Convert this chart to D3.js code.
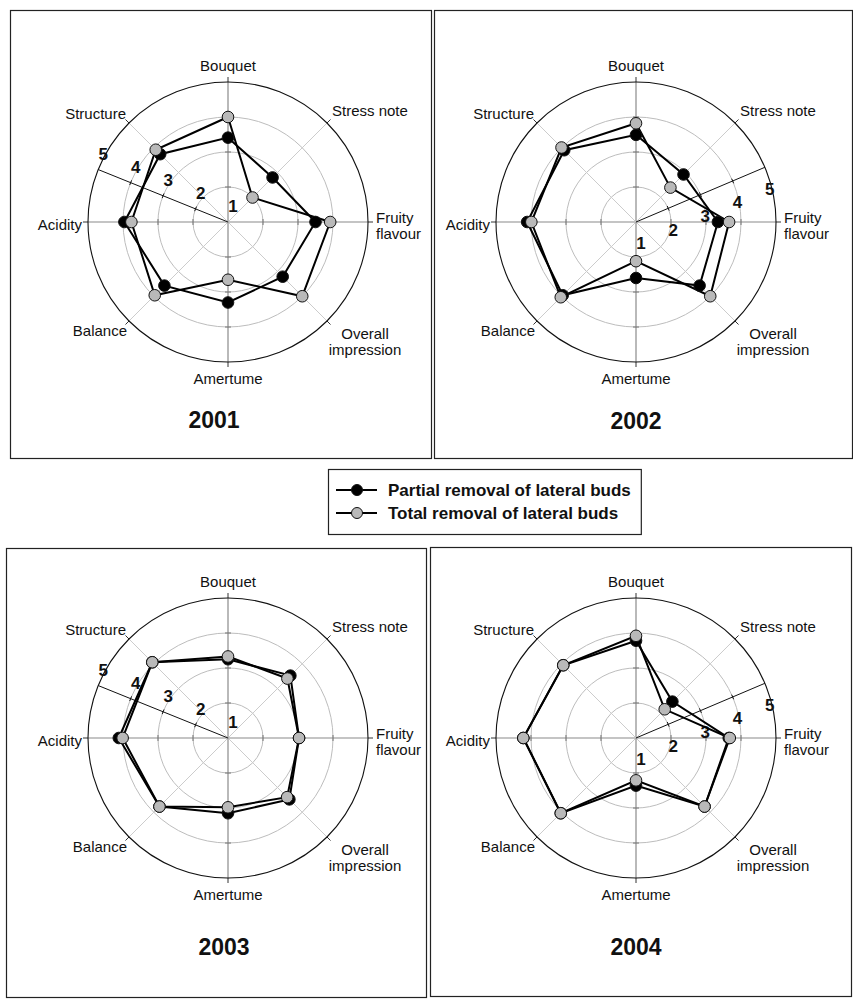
<!DOCTYPE html>
<html>
<head>
<meta charset="utf-8">
<script src="https://cdn.jsdelivr.net/npm/d3@7"></script>
<style>
  html, body { margin: 0; padding: 0; background: #fff; }
  svg { display: block; }
  text { font-family: "Liberation Sans", Arial, Helvetica, sans-serif; }
</style>
</head>
<body>
<svg id="chart" width="853" height="1004"></svg>
<script>
// ---------- data ----------
const categories = ["Bouquet", "Stress note", "Fruity flavour", "Overall impression",
                    "Amertume", "Balance", "Acidity", "Structure"];
const years = ["2001", "2002", "2003", "2004"];
const seriesNames = ["Partial removal of lateral buds", "Total removal of lateral buds"];
const scaleTicks = [1, 2, 3, 4, 5];

const partial2001 = [3.41, 2.80, 3.50, 3.21, 3.30, 3.57, 3.96, 3.74];
const total2001   = [4.00, 1.99, 3.92, 4.00, 2.65, 3.96, 3.76, 3.92];
const partial2002 = [3.49, 2.92, 3.34, 3.57, 2.60, 3.96, 4.11, 3.90];
const total2002   = [3.82, 2.39, 3.66, 4.00, 2.12, 4.04, 3.99, 4.01];
const partial2003 = [3.25, 3.52, 3.03, 3.48, 3.15, 3.77, 4.12, 4.06];
const total2003   = [3.33, 3.40, 3.03, 3.39, 2.98, 3.77, 4.01, 4.06];
const partial2004 = [3.78, 2.47, 3.65, 3.77, 2.36, 4.04, 4.22, 3.94];
const total2004   = [3.92, 2.16, 3.68, 3.77, 2.21, 4.04, 4.22, 3.94];

const partialByYear = [partial2001, partial2002, partial2003, partial2004];
const totalByYear   = [total2001, total2002, total2003, total2004];

// ---------- layout ----------
const panels = [
  { box: [10, 10, 421, 448],  cx: 228, cy: 222, side: "left",  title: [214, 420] },
  { box: [434, 10, 418, 448], cx: 636, cy: 222, side: "right", title: [636, 421] },
  { box: [6, 548, 420, 449],  cx: 228, cy: 738, side: "left",  title: [224, 947] },
  { box: [430, 547, 421, 449], cx: 636, cy: 738, side: "right", title: [636, 947] }
];
const R = 140;
const rScale = d3.scaleLinear().domain([1, 5]).range([0, R]);
const aScale = d3.scaleBand().domain(categories).range([0, 2 * Math.PI]).paddingInner(0).paddingOuter(0);
const ang = c => aScale(c);

// label placement per category: anchor, dx, dy lines
const labelPos = {
  "Bouquet":            { anchor: "middle", dx: 0,    lines: [[ "Bouquet", -157 ]] },
  "Stress note":        { anchor: "start",  dx: 104,  lines: [[ "Stress note", -112 ]] },
  "Fruity flavour":     { anchor: "start",  dx: 148,  lines: [[ "Fruity", -5 ], [ "flavour", 11 ]] },
  "Overall impression": { anchor: "middle", dx: 137,  lines: [[ "Overall", 111 ], [ "impression", 127 ]] },
  "Amertume":           { anchor: "middle", dx: 0,    lines: [[ "Amertume", 156 ]] },
  "Balance":            { anchor: "end",    dx: -101, lines: [[ "Balance", 108 ]] },
  "Acidity":            { anchor: "end",    dx: -146, lines: [[ "Acidity", 2 ]] },
  "Structure":          { anchor: "end",    dx: -102, lines: [[ "Structure", -109 ]] }
};

const svg = d3.select("#chart");

panels.forEach((p, pi) => {
  // frame
  svg.append("rect")
    .attr("x", p.box[0] + 0.5).attr("y", p.box[1] + 0.5)
    .attr("width", p.box[2]).attr("height", p.box[3])
    .attr("fill", "none").attr("stroke", "#222").attr("stroke-width", 1.2);

  const g = svg.append("g").attr("transform", `translate(${p.cx},${p.cy})`);

  // grid circles
  g.selectAll("circle.grid").data([2, 3, 4]).enter().append("circle")
    .attr("r", d => rScale(d)).attr("fill", "none")
    .attr("stroke", "#bdbdbd").attr("stroke-width", 1);

  // spokes
  categories.forEach((c, i) => {
    const a = ang(c);
    const sx = Math.sin(a), sy = -Math.cos(a);
    const cardinal = i % 2 === 0;
    g.append("line")
      .attr("x1", 0).attr("y1", 0)
      .attr("x2", sx * R).attr("y2", sy * R)
      .attr("stroke", cardinal ? "#8a8a8a" : "#cccccc").attr("stroke-width", cardinal ? 1.2 : 1);
    g.append("line")
      .attr("x1", sx * R).attr("y1", sy * R)
      .attr("x2", sx * (R + 5)).attr("y2", sy * (R + 5))
      .attr("stroke", "#333").attr("stroke-width", 1);
    if (cardinal) {
      [2, 3, 4].forEach(v => {
        const rr = rScale(v);
        const px = -sy, py = sx;
        g.append("line")
          .attr("x1", sx * rr - px * 3).attr("y1", sy * rr - py * 3)
          .attr("x2", sx * rr + px * 3).attr("y2", sy * rr + py * 3)
          .attr("stroke", "#777").attr("stroke-width", 1);
      });
    }
  });

  // outer circle
  g.append("circle").attr("r", R).attr("fill", "none")
    .attr("stroke", "#111").attr("stroke-width", 1.1);

  // tilted value axis
  const th = (p.side === "left" ? -68 : 67) * Math.PI / 180;
  const ux = Math.sin(th), uy = -Math.cos(th);
  const nx = -uy, ny = ux;
  g.append("line").attr("x1", 0).attr("y1", 0)
    .attr("x2", ux * R).attr("y2", uy * R)
    .attr("stroke", "#111").attr("stroke-width", 1);
  scaleTicks.slice(1, 4).forEach(v => {
    const rr = rScale(v);
    g.append("line")
      .attr("x1", ux * rr - nx * 2.5).attr("y1", uy * rr - ny * 2.5)
      .attr("x2", ux * rr + nx * 2.5).attr("y2", uy * rr + ny * 2.5)
      .attr("stroke", "#111").attr("stroke-width", 1);
  });
  const along = p.side === "left" ? 1 : -4;
  const perp = p.side === "left" ? 16 : 22;
  g.selectAll("text.tick").data(scaleTicks).enter().append("text")
    .attr("x", d => ux * (rScale(d) + along) + nx * perp)
    .attr("y", d => uy * (rScale(d) + along) + ny * perp)
    .attr("text-anchor", "middle").attr("dominant-baseline", "central")
    .attr("font-size", 17).attr("font-weight", "bold").attr("fill", "#111")
    .text(d => d);

  // category labels
  categories.forEach(c => {
    const L = labelPos[c];
    L.lines.forEach(([t, dy]) => {
      g.append("text")
        .attr("x", L.dx).attr("y", dy)
        .attr("text-anchor", L.anchor).attr("dominant-baseline", "central")
        .attr("font-size", 15).attr("fill", "#111")
        .text(t);
    });
  });

  // series
  const line = d3.lineRadial()
    .angle((d, i) => ang(categories[i]))
    .radius(d => rScale(d))
    .curve(d3.curveLinearClosed);
  const sets = [
    { vals: partialByYear[pi], fill: "#000" },
    { vals: totalByYear[pi], fill: "#b9b9b9" }
  ];
  sets.forEach(s => {
    g.append("path").attr("d", line(s.vals))
      .attr("fill", "none").attr("stroke", "#000").attr("stroke-width", 2);
  });
  sets.forEach(s => {
    g.selectAll(null).data(s.vals).enter().append("circle")
      .attr("cx", (d, i) => Math.sin(ang(categories[i])) * rScale(d))
      .attr("cy", (d, i) => -Math.cos(ang(categories[i])) * rScale(d))
      .attr("r", 5.8)
      .attr("fill", s.fill).attr("stroke", "#111").attr("stroke-width", 1);
  });

  // title
  svg.append("text")
    .attr("x", p.title[0]).attr("y", p.title[1])
    .attr("text-anchor", "middle").attr("dominant-baseline", "central")
    .attr("font-size", 23).attr("font-weight", "bold").attr("fill", "#111")
    .text(years[pi]);
});

// ---------- legend ----------
const lg = svg.append("g");
const legendX = 328, legendTop = 469, legendH = 65;
const rowsY = [490, 513];
const fills = ["#000", "#b9b9b9"];
let maxEnd = 0;
seriesNames.forEach((name, i) => {
  lg.append("line").attr("x1", 336).attr("x2", 377).attr("y1", rowsY[i]).attr("y2", rowsY[i])
    .attr("stroke", "#000").attr("stroke-width", 2);
  lg.append("circle").attr("cx", 357).attr("cy", rowsY[i]).attr("r", 5.5)
    .attr("fill", fills[i]).attr("stroke", "#111").attr("stroke-width", 1);
  const t = lg.append("text").attr("x", 388).attr("y", rowsY[i])
    .attr("dominant-baseline", "central").attr("font-size", 17).attr("font-weight", "bold")
    .attr("fill", "#111").text(name);
  maxEnd = Math.max(maxEnd, 388 + t.node().getComputedTextLength());
});
lg.insert("rect", ":first-child")
  .attr("x", legendX + 0.5).attr("y", legendTop + 0.5)
  .attr("width", maxEnd + 10 - legendX).attr("height", legendH)
  .attr("fill", "#fff").attr("stroke", "#222").attr("stroke-width", 1.2);
</script>
</body>
</html>
